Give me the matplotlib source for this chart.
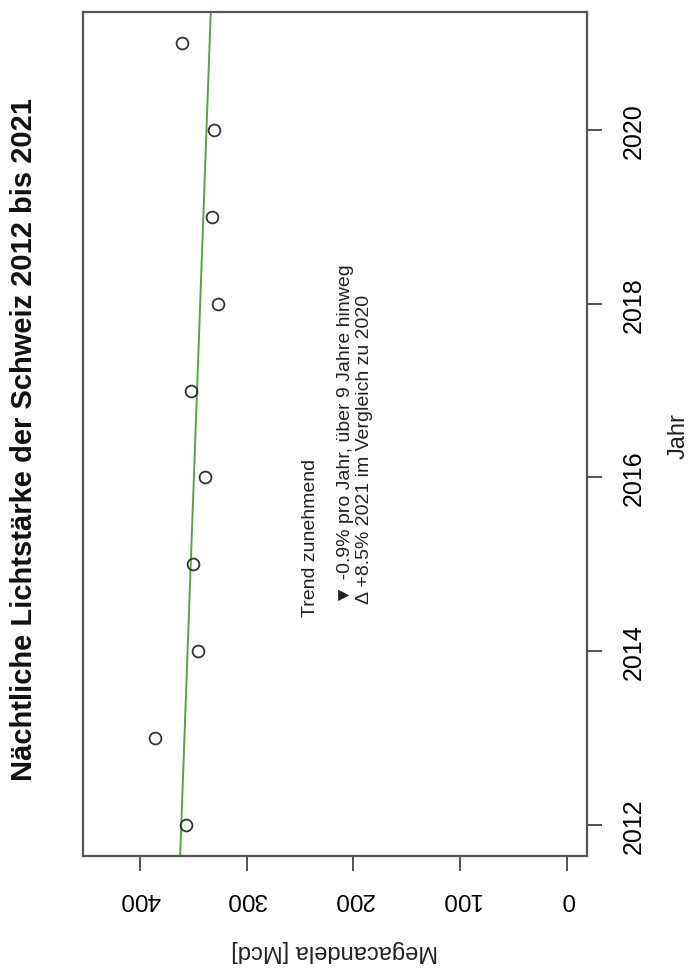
import numpy as np
import matplotlib
matplotlib.use("Agg")
import matplotlib.pyplot as plt

plt.rcParams["font.family"] = ["Liberation Sans", "DejaVu Sans"]

# Jahreswerte (Megacandela)
years = [2012, 2013, 2014, 2015, 2016, 2017, 2018, 2019, 2020, 2021]
mcd = [357, 386, 345, 350, 339, 352, 327, 332, 330, 360]
year_ticks = [2012, 2014, 2016, 2018, 2020]
mcd_ticks = [400, 300, 200, 100, 0]

title = "Nächtliche Lichtstärke der Schweiz 2012 bis 2021"
legend_title = "Trend zunehmend"
legend_lines = ["▼ -0.9% pro Jahr, über 9 Jahre hinweg",
                "Δ +8.5% 2021 im Vergleich zu 2020"]

W, H = 698, 970
fig = plt.figure(figsize=(W / 100, H / 100), dpi=100)
ax = fig.add_axes([83 / W, 1 - 857 / H, (587 - 83) / W, (857 - 13) / H])

# Bild ist um 90° gedreht: Mcd horizontal (invertiert), Jahr vertikal rechts
ax.plot(mcd, years, "o", ms=8.5, mfc="none", mec="#333333", mew=1.3, zorder=3)

b, a = np.polyfit(years, mcd, 1)
yy = np.array([2011.64, 2021.36])
ax.plot(a + b * yy, yy, color="#5d9e4f", lw=1.4, zorder=2)

ax.set_xlim(453, -18.5)
ax.set_ylim(2011.64, 2021.36)

ax.set_xticks(mcd_ticks)
ax.set_xticklabels([str(t) for t in mcd_ticks], rotation=180, fontsize=17.5)
ax.yaxis.tick_right()
ax.set_yticks(year_ticks)
ax.set_yticklabels([str(t) for t in year_ticks], rotation=90, va="center", fontsize=18)
ax.tick_params(axis="x", length=11, width=1.3, color="#444444", pad=11)
ax.tick_params(axis="y", length=11, width=1.3, color="#444444", pad=14)
for s in ax.spines.values():
    s.set_color("#555555")
    s.set_linewidth(1.6)

# Legende (ohne Rahmen), gedreht
kw = dict(rotation=90, rotation_mode="anchor", ha="left", va="center",
          fontsize=14, color="#222222")
ax.text(240, 2014.4, legend_title, **kw)
ax.text(207, 2014.55, legend_lines[0], **kw)
ax.text(190, 2014.55, legend_lines[1], **kw)

fig.text(24 / W, 1 - 440 / H, title, rotation=90, ha="center", va="center",
         fontsize=21, fontweight="bold", color="#111111")
fig.text(679 / W, 1 - 436 / H, "Jahr", rotation=90, ha="center", va="center",
         fontsize=17, color="#222222")
fig.text(335 / W, 1 - 951 / H, "Megacandela [Mcd]", rotation=180, ha="center",
         va="center", fontsize=17, color="#222222")

fig.savefig("out.png", dpi=100)
